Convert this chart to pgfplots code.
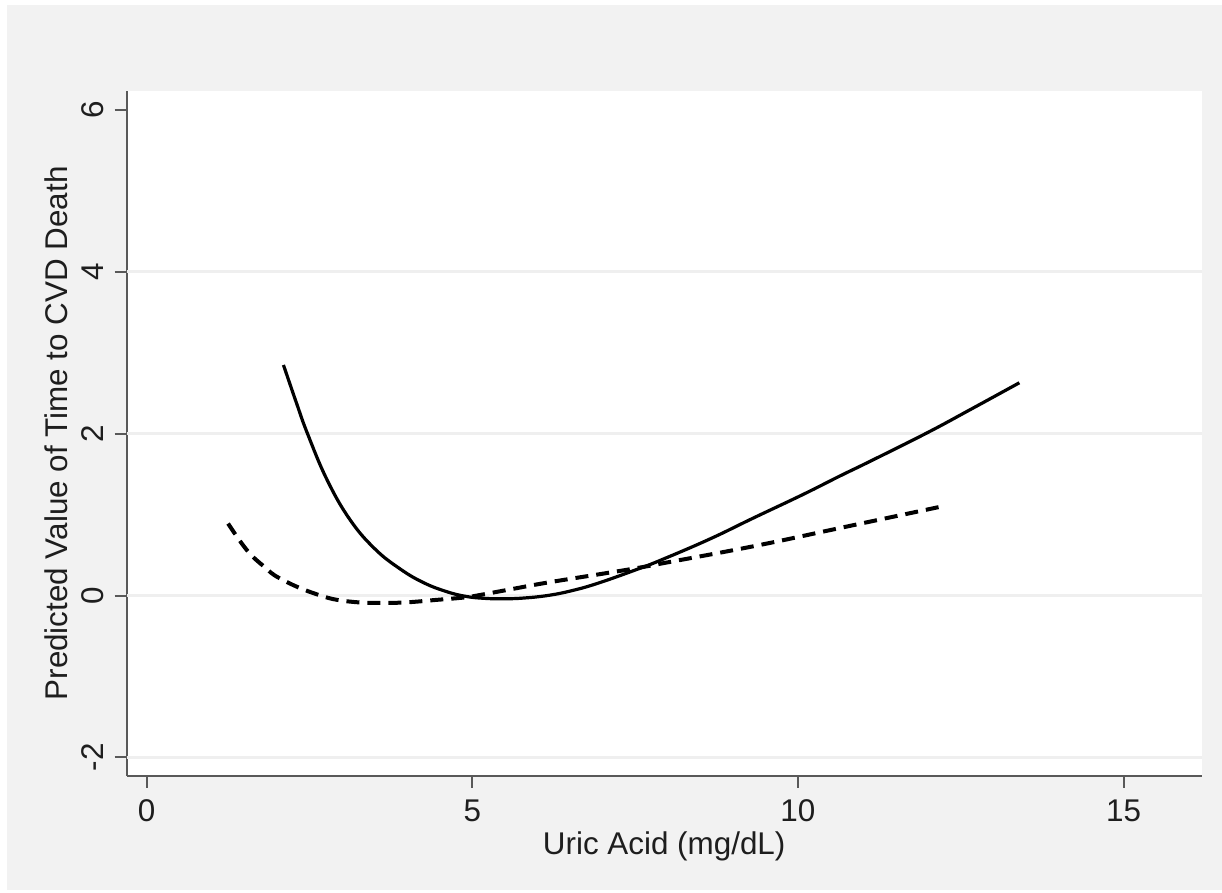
\documentclass[border=0pt]{standalone}
\usepackage{pgfplots}
\pgfplotsset{compat=1.18}
\usepackage{fontspec}
\setmainfont{Liberation Sans}
\definecolor{bggray}{HTML}{F2F2F2}
\definecolor{axiscol}{HTML}{595959}
\definecolor{gridcol}{HTML}{EFEFEF}
\definecolor{txtcol}{HTML}{1E1E1E}
\begin{document}
\begin{tikzpicture}
\fill[white] (-63.35pt,-58.5pt) rectangle (547.65pt,388pt);
\fill[bggray] (-59.85pt,-57pt) rectangle (547.65pt,385.5pt);
\begin{axis}[
  scale only axis, width=537.5pt, height=342.65pt,
  xmin=-0.307, xmax=16.2, ymin=-2.23, ymax=6.24,
  axis background/.style={fill=white},
  axis x line*=bottom, axis y line*=left,
  axis line style={-, draw=axiscol, line width=1pt},
  xtick={0,5,10,15}, ytick={-2,0,2,4,6},
  tick align=outside, major tick length=6pt,
  tick style={draw=axiscol, line width=1pt},
  extra y ticks={-2,0,2,4}, extra y tick labels={},
  extra y tick style={grid=major, major tick length=0pt,
     major grid style={draw=gridcol, line width=1.5pt}},
  /pgf/number format/assume math mode=true,
  tick label style={font=\fontsize{15.7}{18}\selectfont, text=txtcol},
  xticklabel style={yshift=-2.4pt},
  yticklabel style={xshift=-5.6pt, rotate=90, anchor=base},
  label style={font=\fontsize{15.7}{18}\selectfont, text=txtcol},
  xlabel={Uric Acid (mg/dL)},
  ylabel={Predicted Value of Time to CVD Death},
  xlabel style={at={(axis description cs:0.5,-0.1140)}, anchor=base, inner sep=0pt},
  ylabel style={at={(axis description cs:-0.0548,0.5)}, rotate=0, anchor=base, inner sep=0pt},
  clip=true,
]
\addplot[black, line width=1.6pt, smooth, tension=0.7] coordinates {
 (2.10,2.85) (2.30,2.38) (2.47,2.00) (2.77,1.43) (3.12,0.94) (3.50,0.58)
 (3.89,0.33) (4.25,0.16) (4.60,0.05) (4.90,-0.01) (5.20,-0.035) (5.50,-0.04)
 (5.80,-0.03) (6.15,0.00) (6.50,0.055) (6.92,0.15) (7.55,0.33) (7.93,0.45)
 (8.65,0.70) (9.32,0.96) (10.08,1.25) (10.65,1.48) (11.11,1.66) (11.98,2.01)
 (12.65,2.30) (13.40,2.63)
};
\addplot[black, line width=2pt, dash pattern=on 6.5pt off 4pt, smooth, tension=0.7] coordinates {
 (1.25,0.89) (1.54,0.56) (1.80,0.36) (2.05,0.21) (2.56,0.03) (3.07,-0.07)
 (3.79,-0.09) (4.50,-0.05) (4.92,-0.02) (5.07,0.00) (5.54,0.07) (6.15,0.16)
 (7.00,0.27) (7.53,0.34) (7.93,0.40) (9.32,0.61) (10.50,0.81) (10.85,0.87)
 (12.26,1.11)
};
\end{axis}
\pgfresetboundingbox
\useasboundingbox (-63.35pt,-58.5pt) rectangle (547.65pt,388pt);
\end{tikzpicture}
\end{document}
